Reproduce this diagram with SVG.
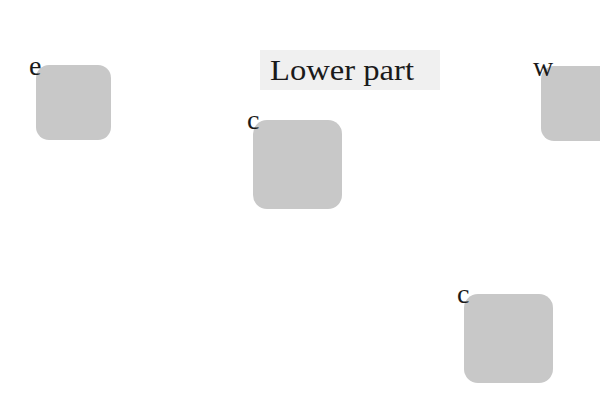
<svg xmlns="http://www.w3.org/2000/svg" width="600" height="400" viewBox="0 0 600 400">
<style>
.node{fill:#c8c8c8;}
.lbl{font-family:"Liberation Serif","DejaVu Serif",serif;font-size:28px;fill:#1a1a1a;}
.title{font-family:"Liberation Serif","DejaVu Serif",serif;font-size:29px;fill:#1a1a1a;}
</style>
<rect width="600" height="400" fill="#ffffff"/>
<g id="title">
<rect x="260" y="50" width="180" height="40" fill="#f0f0f0"/>
<text class="title" x="270" y="80" textLength="144" lengthAdjust="spacingAndGlyphs">Lower part</text>
</g>
<g id="connectors"></g>
<g id="node-e">
<rect class="node" x="36" y="65" width="75" height="75" rx="13"/>
<text class="lbl" x="29" y="75">e</text>
</g>
<g id="node-c1">
<rect class="node" x="253" y="120" width="89" height="89" rx="14"/>
<text class="lbl" x="247" y="129">c</text>
</g>
<g id="node-w">
<rect class="node" x="541" y="66" width="75" height="75" rx="13"/>
<text class="lbl" x="533" y="76">w</text>
</g>
<g id="node-c2">
<rect class="node" x="464" y="294" width="89" height="89" rx="14"/>
<text class="lbl" x="457" y="303">c</text>
</g>
</svg>
